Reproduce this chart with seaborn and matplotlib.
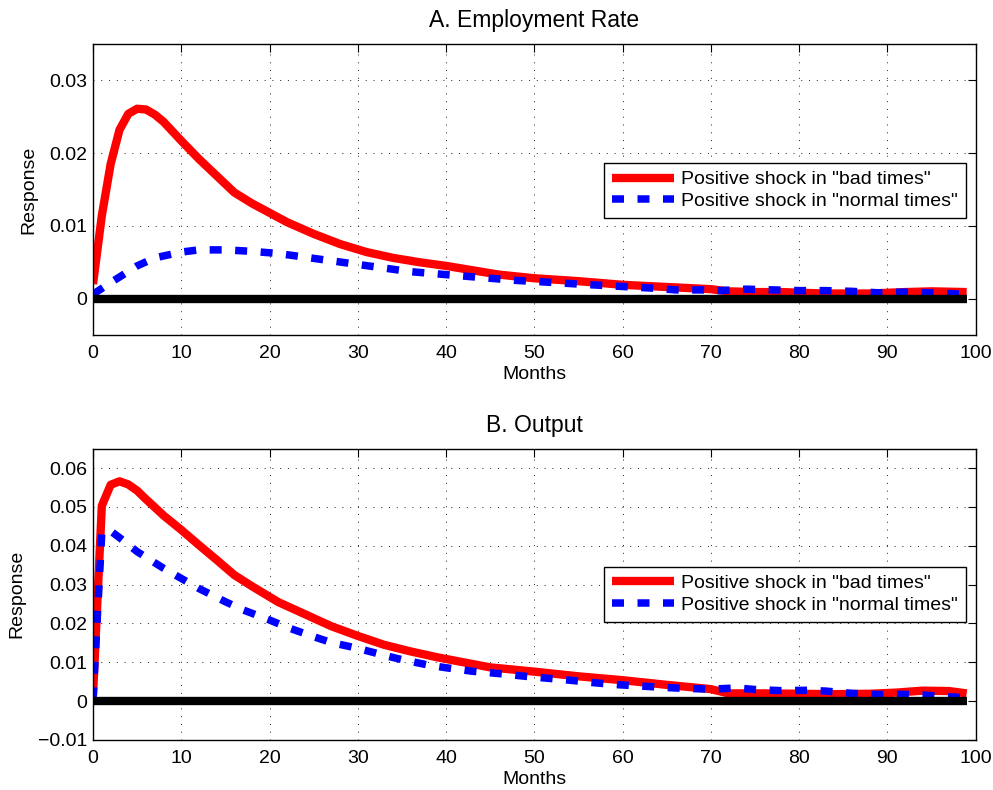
import numpy as np
import pandas as pd
import matplotlib
matplotlib.use("Agg")
import matplotlib.pyplot as plt
from matplotlib.ticker import FuncFormatter, MultipleLocator
import seaborn as sns

# ---------------- data ----------------
titles = ["A. Employment Rate", "B. Output"]
labels = ['Positive shock in "bad times"', 'Positive shock in "normal times"']
x_label = "Months"
y_label = "Response"

a_bad_months = [0, 1, 2, 3, 4, 5, 6, 7, 8, 9, 10, 12, 14, 16, 18, 20, 22, 25, 28, 31, 34, 37,
                40, 43, 46, 50, 55, 60, 65, 70, 72, 75, 78, 83, 88, 92, 95, 99]
a_bad_vals = [0.002, 0.0114, 0.0185, 0.0232, 0.0254, 0.0261, 0.026, 0.0253, 0.0243, 0.023,
              0.0217, 0.0192, 0.0169, 0.0146, 0.0131, 0.0118, 0.0105, 0.0089, 0.0075, 0.0064,
              0.0056, 0.005, 0.0045, 0.0039, 0.0033, 0.0028, 0.0024, 0.0019, 0.0016, 0.0013,
              0.001, 0.0009, 0.0009, 0.0007, 0.0007, 0.0009, 0.001, 0.0009]

a_norm_months = [0, 2, 5, 7, 10, 12, 15, 18, 21, 24, 27, 30, 33, 36, 39, 42, 45, 48, 51, 55,
                 58, 61, 64, 66, 69, 71, 74, 77, 80, 83, 86, 89, 92, 95, 99]
a_norm_vals = [0.0006, 0.0022, 0.0045, 0.0056, 0.0064, 0.0067, 0.0067, 0.0065, 0.0062, 0.0057,
               0.0052, 0.0047, 0.0042, 0.0037, 0.0034, 0.0031, 0.0028, 0.0025, 0.0023, 0.002,
               0.0018, 0.0016, 0.0014, 0.0012, 0.0012, 0.0011, 0.0013, 0.0012, 0.0011, 0.0011,
               0.001, 0.0008, 0.0009, 0.0008, 0.0006]

b_bad_months = [0, 1, 2, 3, 4, 5, 6, 8, 10, 12, 14, 16, 18, 21, 24, 27, 30, 33, 36, 39, 42, 45,
                50, 55, 60, 65, 70, 72, 76, 80, 84, 88, 91, 94, 97, 99]
b_bad_vals = [0.0015, 0.0503, 0.0557, 0.0566, 0.0558, 0.0542, 0.052, 0.0478, 0.0441, 0.0402,
              0.0364, 0.0325, 0.0296, 0.0255, 0.0224, 0.0193, 0.0168, 0.0145, 0.0128, 0.0113,
              0.0100, 0.0087, 0.0076, 0.0064, 0.0054, 0.0042, 0.0031, 0.002, 0.002, 0.0019,
              0.0018, 0.0019, 0.0022, 0.0027, 0.0026, 0.002]

b_norm_months = [0, 1, 2, 3, 5, 8, 10, 12, 15, 17, 20, 22, 25, 27, 30, 33, 35, 38, 40, 43, 46,
                 49, 51, 54, 57, 59, 62, 65, 67, 70, 73, 75, 78, 81, 83, 86, 89, 91, 94, 97, 99]
b_norm_vals = [0.0005, 0.0435, 0.0438, 0.0421, 0.0385, 0.0342, 0.0316, 0.029, 0.0256, 0.0235,
               0.0209, 0.019, 0.0166, 0.0151, 0.0136, 0.0118, 0.0107, 0.0093, 0.0086, 0.0077,
               0.0071, 0.0064, 0.006, 0.0054, 0.0047, 0.0043, 0.0039, 0.0035, 0.0033, 0.0031,
               0.0034, 0.003, 0.0027, 0.0028, 0.0026, 0.002, 0.0017, 0.0018, 0.0016, 0.0011,
               0.0009]

baseline_months = [0, 99]
baseline_vals = [0.0, 0.0]

x_ticks = list(range(0, 101, 10))
a_ylim = (-0.005, 0.035)
b_ylim = (-0.01, 0.065)

# ---------------- style ----------------
sns.set_theme(style="white")
plt.rcParams['font.family'] = ['Liberation Sans', 'DejaVu Sans']
plt.rcParams['axes.edgecolor'] = 'black'
plt.rcParams['text.color'] = 'black'
plt.rcParams['axes.labelcolor'] = 'black'
plt.rcParams['xtick.color'] = 'black'
plt.rcParams['ytick.color'] = 'black'

fig = plt.figure(figsize=(9.93, 7.90), dpi=100)
W, H = 993, 790
def add_ax(left, top, right, bottom):
    return fig.add_axes([left / W, 1 - bottom / H, (right - left) / W, (bottom - top) / H])

axA = add_ax(93, 44, 975.5, 335)
axB = add_ax(93, 448.7, 975.5, 740)

def yfmt(v, pos):
    if abs(v) < 1e-12:
        return "0"
    return f"{v:.2f}".replace("-", "\u2212")

panels = [
    (axA, titles[0], a_bad_months, a_bad_vals, a_norm_months, a_norm_vals, a_ylim, 0.01,
     -0.0635, 0.591),
    (axB, titles[1], b_bad_months, b_bad_vals, b_norm_months, b_norm_vals, b_ylim, 0.01,
     -0.077, 0.595),
]

for ax, title, bm, bv, nm, nv, ylim, ystep, ylab_x, leg_top in panels:
    df_bad = pd.DataFrame({"month": bm, "resp": bv})
    df_norm = pd.DataFrame({"month": nm, "resp": nv})
    df_base = pd.DataFrame({"month": baseline_months, "resp": baseline_vals})

    sns.lineplot(data=df_bad, x="month", y="resp", ax=ax, color="#ff0000", lw=6,
                 label=labels[0], solid_capstyle="butt", zorder=2)
    sns.lineplot(data=df_norm, x="month", y="resp", ax=ax, color="#0000ff", lw=5.4,
                 linestyle=(0, (1.6, 1.8)), dash_capstyle="butt", label=labels[1], zorder=2.5)
    sns.lineplot(data=df_base, x="month", y="resp", ax=ax, color="black", lw=6,
                 solid_capstyle="butt", zorder=3, label="_nolegend_")

    ax.set_xlim(0, 100)
    ax.set_ylim(*ylim)
    ax.set_xticks(x_ticks)
    ax.yaxis.set_major_locator(MultipleLocator(ystep))
    ax.yaxis.set_major_formatter(FuncFormatter(yfmt))
    ax.grid(True, linestyle=(0, (1, 7)), color="#222222", lw=0.7)
    ax.tick_params(axis="both", direction="in", top=True, right=True, length=6, width=0.8,
                   labelsize=14)
    ax.tick_params(axis="x", pad=7)
    ax.tick_params(axis="y", pad=4)
    for s in ax.spines.values():
        s.set_linewidth(1.0)
        s.set_color("black")
    ax.set_title(title, fontsize=16.5, pad=12)
    ax.set_xlabel(x_label, fontsize=14)
    ax.set_ylabel(y_label, fontsize=14)
    ax.xaxis.set_label_coords(0.5, -0.107)
    ax.yaxis.set_label_coords(ylab_x, 0.5)

    handles, labs = ax.get_legend_handles_labels()
    keep = [(h, l) for h, l in zip(handles, labs) if l in labels]
    leg = ax.legend([k[0] for k in keep], [k[1] for k in keep], loc="upper right",
                    bbox_to_anchor=(0.9887, leg_top), fontsize=14, frameon=True,
                    fancybox=False, edgecolor="black", framealpha=1, handlelength=3.2,
                    handletextpad=0.35, labelspacing=0.22, borderpad=0.4, borderaxespad=0)
    leg.get_frame().set_linewidth(1.0)

fig.savefig("out.png", dpi=100)
